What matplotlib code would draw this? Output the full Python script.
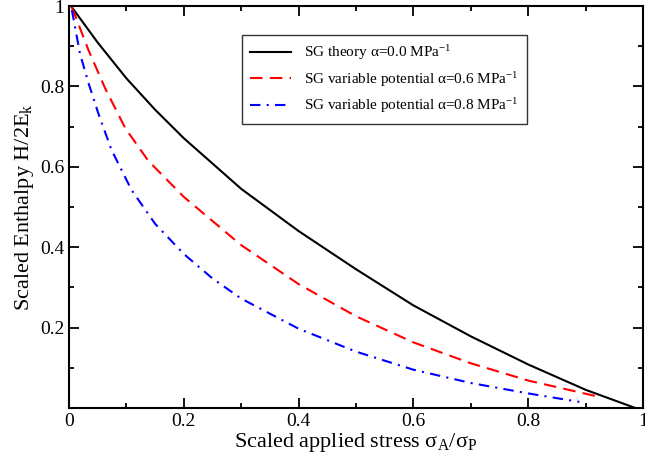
import matplotlib
matplotlib.use("Agg")
import matplotlib.pyplot as plt
from matplotlib.ticker import MultipleLocator, FixedLocator

plt.rcParams["font.family"] = ["Liberation Serif", "DejaVu Serif"]
plt.rcParams["mathtext.fontset"] = "custom"
plt.rcParams["mathtext.rm"] = "Liberation Serif"
plt.rcParams["mathtext.it"] = "Liberation Serif:italic"

# values
theory_x = [0.005, 0.05, 0.1, 0.15, 0.2, 0.3, 0.4, 0.5, 0.6,
            0.7, 0.8, 0.9, 0.986]
theory_y = [0.997, 0.909, 0.82, 0.742, 0.671, 0.545, 0.44, 0.345, 0.255,
            0.178, 0.108, 0.045, 0.0]

var06_x = [0.005, 0.034, 0.063, 0.098, 0.138, 0.2, 0.3, 0.4, 0.5, 0.6,
           0.7, 0.8, 0.916]
var06_y = [0.997, 0.89, 0.795, 0.696, 0.615, 0.525, 0.405, 0.308, 0.228, 0.163,
           0.111, 0.068, 0.03]

var08_x = [0.005, 0.019, 0.034, 0.051, 0.074, 0.109, 0.15, 0.2, 0.25, 0.3,
           0.4, 0.5, 0.6, 0.7, 0.8, 0.889]
var08_y = [0.99, 0.882, 0.808, 0.733, 0.642, 0.542, 0.458, 0.383, 0.322, 0.272,
           0.197, 0.14, 0.095, 0.062, 0.036, 0.015]

labels = [
    "SG theory α=0.0 MPa$^{-1}$",
    "SG variable potential α=0.6 MPa$^{-1}$",
    "SG variable potential α=0.8 MPa$^{-1}$",
]

x_ticks = [0, 0.2, 0.4, 0.6, 0.8, 1.0]
x_ticklabels = ["0", "0.2", "0.4", "0.6", "0.8", "1"]
y_ticks = [0.2, 0.4, 0.6, 0.8, 1.0]
y_ticklabels = ["0.2", "0.4", "0.6", "0.8", "1"]

fig = plt.figure(figsize=(6.45, 4.63), dpi=100)
ax = fig.add_axes([0.107, 0.119, 0.89, 0.868])

ax.plot(theory_x, theory_y, color="black", lw=1.5, label=labels[0])
ax.plot(var06_x, var06_y, color="red", lw=1.5, dashes=(6, 3.5), label=labels[1])
ax.plot(var08_x, var08_y, color="blue", lw=1.5, dashes=(5, 3, 1, 3), label=labels[2])

ax.set_xlim(0, 1)
ax.set_ylim(0, 1)

ax.xaxis.set_major_locator(FixedLocator(x_ticks))
ax.xaxis.set_minor_locator(MultipleLocator(0.1))
ax.yaxis.set_major_locator(FixedLocator(y_ticks))
ax.yaxis.set_minor_locator(MultipleLocator(0.1))
ax.set_xticklabels(x_ticklabels)
ax.set_yticklabels(y_ticklabels)

ax.tick_params(which="both", direction="in", top=True, right=True,
               labelsize=14, width=1.3)
ax.tick_params(which="major", length=7)
ax.tick_params(which="minor", length=3.5)
for s in ax.spines.values():
    s.set_linewidth(1.5)

ax.set_xlabel("Scaled applied stress σ$_{\\rm A}$/σ$_{\\rm P}$", fontsize=16, labelpad=1)
ax.set_ylabel("Scaled Enthalpy H/2E$_{\\rm k}$", fontsize=16, labelpad=3)

leg = ax.legend(loc="upper left", bbox_to_anchor=(0.301, 0.928), fontsize=11,
                frameon=True, fancybox=False, edgecolor="black",
                handlelength=2.7, handletextpad=0.8, borderpad=0.55,
                labelspacing=0.5, borderaxespad=0)
leg.get_frame().set_linewidth(1.0)

fig.savefig("out.png", dpi=100)
